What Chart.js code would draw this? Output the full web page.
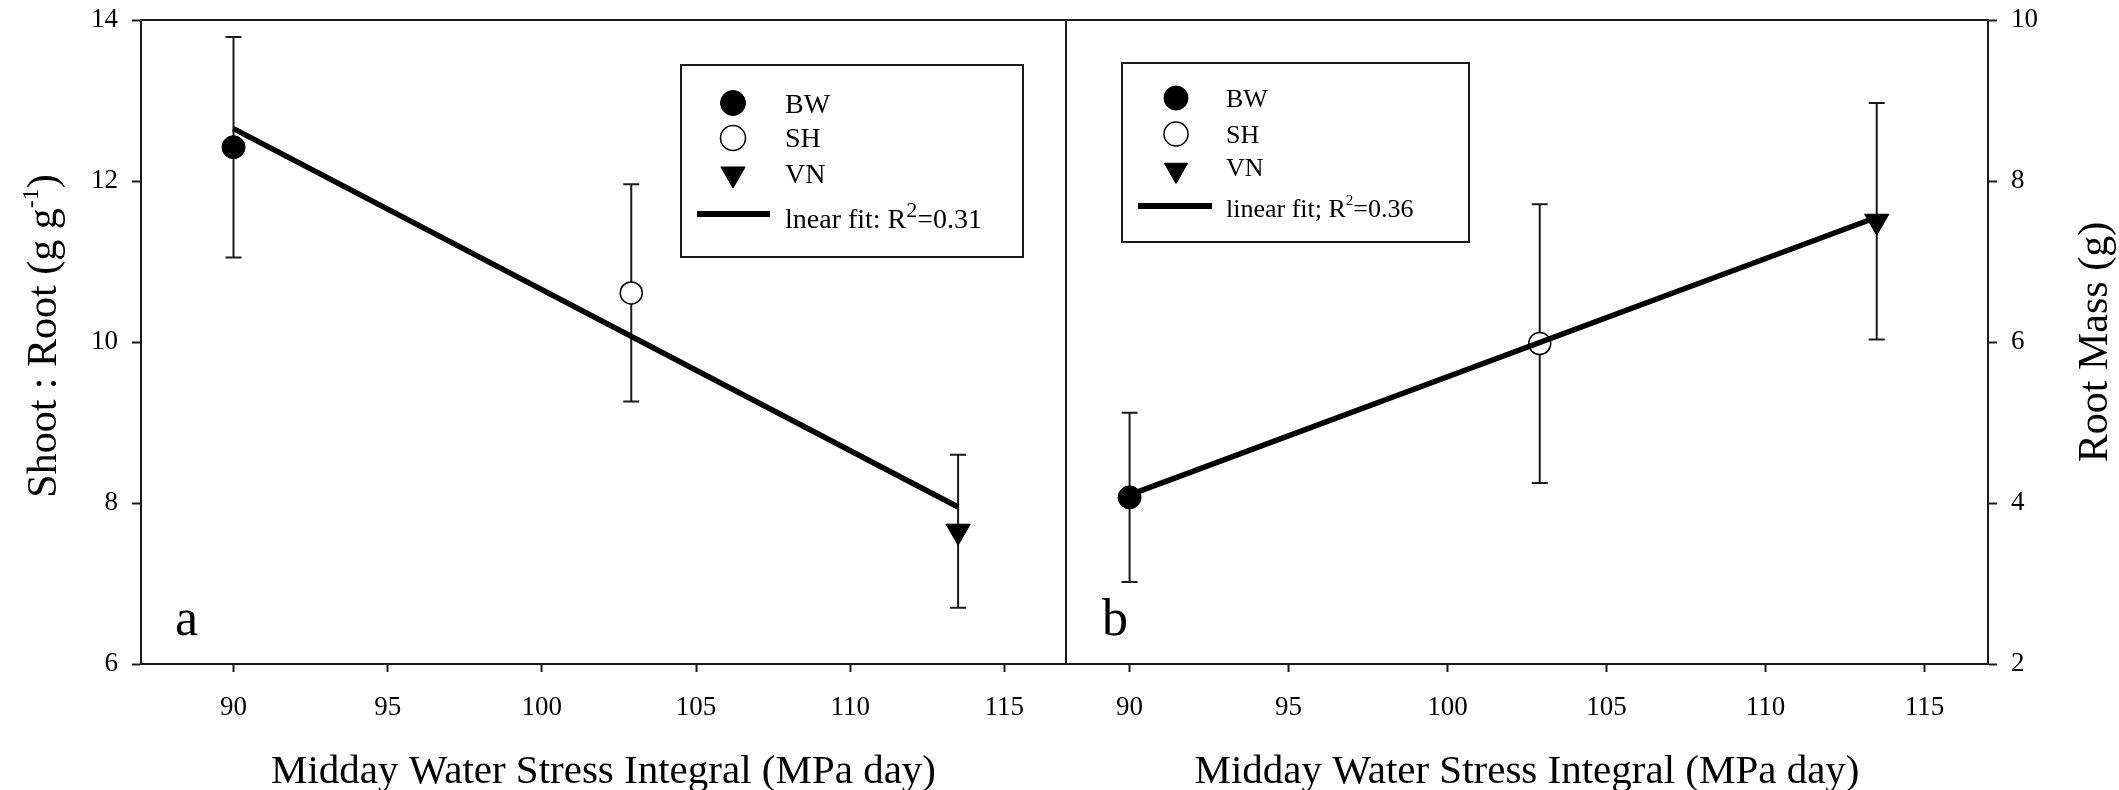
<!DOCTYPE html>
<html>
<head>
<meta charset="utf-8">
<script src="https://cdn.jsdelivr.net/npm/chart.js@4.4.1/dist/chart.umd.min.js"></script>
<style>
  html, body { margin: 0; padding: 0; background: #fff; }
  #wrap { position: relative; width: 2119px; height: 790px; }
  canvas { position: absolute; top: 0; }
  #ratioChart { left: 0; }
  #massChart { left: 1066px; }
</style>
</head>
<body>
<div id="wrap">
  <canvas id="ratioChart" width="1068" height="790"></canvas>
  <canvas id="massChart" width="1053" height="790"></canvas>
</div>
<script>
// ================= Data =================
const groups = ['BW', 'SH', 'VN'];
const stressIntegral = [90, 102.9, 113.5];   // MPa day
const xTicks = [90, 95, 100, 105, 110, 115];

// panel a: shoot : root ratio
const ratioMean = [12.42, 10.61, 7.65];
const ratioErr = [1.37, 1.35, 0.95];
const ratioFitX = [90, 113.5];
const ratioFitY = [12.65, 7.95];
const ratioTicks = [6, 8, 10, 12, 14];

// panel b: root mass
const massMean = [4.07, 5.98, 7.5];
const massErr = [1.05, 1.73, 1.47];
const massFitX = [90, 113.5];
const massFitY = [4.1, 7.55];
const massTicks = [2, 4, 6, 8, 10];

// ================= Styling =================
const FONT = '"Liberation Serif", "Times New Roman", serif';
const INK = '#1a1a1a';

const markers = {
  BW: { style: 'circle', radius: 11.5, fill: '#000', border: 1, rotation: 0 },
  SH: { style: 'circle', radius: 11, fill: '#fff', border: 1.5, rotation: 0 },
  VN: { style: 'triangle', radius: 14, fill: '#000', border: 1, rotation: 180 }
};

function drawMarker(ctx, m, x, y, r) {
  ctx.save();
  ctx.fillStyle = m.fill;
  ctx.strokeStyle = '#000';
  ctx.lineWidth = m.border;
  ctx.beginPath();
  if (m.style === 'circle') {
    ctx.arc(x, y, r, 0, Math.PI * 2);
  } else {
    // downward triangle, same geometry as Chart.js 'triangle' rotated 180
    let rad = Math.PI;
    ctx.moveTo(x + Math.sin(rad) * r, y - Math.cos(rad) * r);
    rad += Math.PI * 2 / 3;
    ctx.lineTo(x + Math.sin(rad) * r, y - Math.cos(rad) * r);
    rad += Math.PI * 2 / 3;
    ctx.lineTo(x + Math.sin(rad) * r, y - Math.cos(rad) * r);
    ctx.closePath();
  }
  ctx.fill();
  ctx.stroke();
  ctx.restore();
}

// text made of runs, some raised as superscripts; (cx, cy) = centre of baseline
function drawRich(ctx, parts, cx, cy, angle) {
  ctx.save();
  ctx.translate(cx, cy);
  ctx.rotate(angle || 0);
  ctx.fillStyle = '#000';
  ctx.textBaseline = 'alphabetic';
  let total = 0;
  parts.forEach(p => {
    ctx.font = `${p.size}px ${FONT}`;
    p.w = ctx.measureText(p.text).width;
    total += p.w;
  });
  let x = -total / 2;
  parts.forEach(p => {
    ctx.font = `${p.size}px ${FONT}`;
    ctx.fillText(p.text, x, -(p.rise || 0));
    x += p.w;
  });
  ctx.restore();
}

function drawRuns(ctx, parts, x, y) {
  ctx.save();
  ctx.fillStyle = '#000';
  ctx.textBaseline = 'alphabetic';
  parts.forEach(p => {
    ctx.font = `${p.size}px ${FONT}`;
    ctx.fillText(p.text, x, y - (p.rise || 0));
    x += ctx.measureText(p.text).width;
  });
  ctx.restore();
}

// ================= Plugins =================
const errorBars = {
  id: 'errorBars',
  beforeDatasetsDraw(chart, args, opts) {
    const { ctx, scales: { x, y } } = chart;
    ctx.save();
    ctx.strokeStyle = INK;
    ctx.lineWidth = 2;
    opts.mean.forEach((m, i) => {
      const px = x.getPixelForValue(stressIntegral[i]);
      const top = y.getPixelForValue(m + opts.err[i]);
      const bot = y.getPixelForValue(m - opts.err[i]);
      ctx.beginPath();
      ctx.moveTo(px, top); ctx.lineTo(px, bot);
      ctx.moveTo(px - 8, top); ctx.lineTo(px + 8, top);
      ctx.moveTo(px - 8, bot); ctx.lineTo(px + 8, bot);
      ctx.stroke();
    });
    ctx.restore();
  }
};

const frame = {
  id: 'frame',
  afterDraw(chart, args, opts) {
    const { ctx, chartArea: a } = chart;
    ctx.save();
    ctx.strokeStyle = INK;
    ctx.lineWidth = 2;
    ctx.beginPath();
    ctx.moveTo(a.left, a.top); ctx.lineTo(a.right, a.top);
    if (opts.divider) { ctx.moveTo(a.right, a.top); ctx.lineTo(a.right, a.bottom); }
    ctx.stroke();
    ctx.restore();
  }
};

const annotations = {
  id: 'annotations',
  afterDraw(chart, args, o) {
    const { ctx, chartArea: a } = chart;
    // axis titles
    drawRich(ctx, [{ text: 'Midday Water Stress Integral (MPa day)', size: 41 }],
      (a.left + a.right) / 2, 783, 0);
    drawRich(ctx, o.yTitle, o.yTitleX, o.yTitleY, -Math.PI / 2);

    // panel letter
    ctx.save();
    ctx.fillStyle = '#000';
    ctx.font = `52px ${FONT}`;
    ctx.fillText(o.letter, a.left + o.letterDx, 635);
    ctx.restore();

    // legend box
    const L = o.legend;
    ctx.save();
    ctx.strokeStyle = INK;
    ctx.lineWidth = 2;
    ctx.strokeRect(L.x, L.y, L.w, L.h);
    ctx.restore();
    groups.forEach((g, i) => {
      drawMarker(ctx, markers[g], L.markerX, L.rows[i], g === 'VN' ? L.r + 1.5 : L.r);
      drawRuns(ctx, [{ text: g, size: L.size }], L.textX, L.baselines[i]);
    });
    ctx.save();
    ctx.strokeStyle = '#000';
    ctx.lineWidth = 6;
    ctx.beginPath();
    ctx.moveTo(L.lineX0, L.lineY);
    ctx.lineTo(L.lineX1, L.lineY);
    ctx.stroke();
    ctx.restore();
    drawRuns(ctx, L.fitText, L.textX, L.baselines[3]);
  }
};

// ================= Charts =================
function xScale(min) {
  return {
    type: 'linear',
    min: min,
    max: 117,
    afterFit: s => {
      s.height = 126;
      s.paddingLeft = 0;
      s.paddingRight = 0;
    },
    afterBuildTicks: s => { s.ticks = xTicks.map(v => ({ value: v })); },
    grid: { drawOnChartArea: false, drawTicks: true, tickLength: 8, tickWidth: 2, tickColor: INK },
    border: { display: true, color: INK, width: 2 },
    ticks: { font: { family: FONT, size: 27 }, color: '#000', padding: 20, maxRotation: 0 }
  };
}

function yScale(min, max, tickVals, position, width) {
  return {
    type: 'linear',
    position: position,
    min: min,
    max: max,
    afterFit: s => {
      s.width = width;
      s.paddingTop = 0;
      s.paddingBottom = 0;
    },
    afterBuildTicks: s => { s.ticks = tickVals.map(v => ({ value: v })); },
    grid: { drawOnChartArea: false, drawTicks: true, tickLength: 9, tickWidth: 2, tickColor: INK },
    border: { display: true, color: INK, width: 2 },
    ticks: { font: { family: FONT, size: 27 }, color: '#000', padding: 14 }
  };
}

function datasets(means, fitX, fitY) {
  const fit = {
    type: 'line',
    label: 'linear fit',
    data: fitX.map((x, i) => ({ x: x, y: fitY[i] })),
    borderColor: '#000',
    borderWidth: 5.5,
    pointRadius: 0,
    fill: false,
    order: 0
  };
  const pts = groups.map((g, i) => ({
    type: 'scatter',
    label: g,
    data: [{ x: stressIntegral[i], y: means[i] }],
    pointStyle: markers[g].style,
    pointRadius: markers[g].radius,
    pointRotation: markers[g].rotation,
    pointBackgroundColor: markers[g].fill,
    pointBorderColor: '#000',
    pointBorderWidth: markers[g].border,
    order: 1
  }));
  return [fit, ...pts];
}

const baseOptions = {
  responsive: false,
  animation: false,
  devicePixelRatio: 1,
  events: []
};

new Chart(document.getElementById('ratioChart'), {
  type: 'scatter',
  data: { datasets: datasets(ratioMean, ratioFitX, ratioFitY) },
  options: {
    ...baseOptions,
    layout: { autoPadding: false, padding: { top: 20, right: 2, left: 0, bottom: 0 } },
    scales: {
      x: xScale(87),
      y: yScale(6, 14, ratioTicks, 'left', 141)
    },
    plugins: {
      legend: { display: false },
      tooltip: { enabled: false },
      errorBars: { mean: ratioMean, err: ratioErr },
      frame: { divider: true },
      annotations: {
        yTitle: [
          { text: 'Shoot : Root (g g', size: 42 },
          { text: '-1', size: 24, rise: 18 },
          { text: ')', size: 42 }
        ],
        yTitleX: 56,
        yTitleY: 336,
        letter: 'a',
        letterDx: 34,
        legend: {
          x: 681, y: 65, w: 342, h: 192,
          markerX: 733, r: 12.5,
          rows: [103, 138, 174],
          textX: 785, size: 28,
          baselines: [112.5, 147, 182.5, 228],
          lineX0: 697, lineX1: 770, lineY: 214,
          fitText: [
            { text: 'lnear fit: R', size: 28 },
            { text: '2', size: 22, rise: 11 },
            { text: '=0.31', size: 28 }
          ]
        }
      }
    }
  },
  plugins: [errorBars, frame, annotations]
});

new Chart(document.getElementById('massChart'), {
  type: 'scatter',
  data: { datasets: datasets(massMean, massFitX, massFitY) },
  options: {
    ...baseOptions,
    layout: { autoPadding: false, padding: { top: 20, right: 0, left: 0, bottom: 0 } },
    scales: {
      x: xScale(88),
      y: yScale(2, 10, massTicks, 'right', 131)
    },
    plugins: {
      legend: { display: false },
      tooltip: { enabled: false },
      errorBars: { mean: massMean, err: massErr },
      frame: { divider: false },
      annotations: {
        yTitle: [{ text: 'Root Mass (g)', size: 42 }],
        yTitleX: 1041,
        yTitleY: 342,
        letter: 'b',
        letterDx: 36,
        legend: {
          x: 56, y: 63, w: 347, h: 179,
          markerX: 110, r: 12,
          rows: [98, 134, 170],
          textX: 160, size: 26,
          baselines: [106.5, 143, 176, 216.5],
          lineX0: 72, lineX1: 146, lineY: 206,
          fitText: [
            { text: 'linear fit; R', size: 26 },
            { text: '2', size: 15, rise: 12 },
            { text: '=0.36', size: 26 }
          ]
        }
      }
    }
  },
  plugins: [errorBars, frame, annotations]
});
</script>
</body>
</html>
